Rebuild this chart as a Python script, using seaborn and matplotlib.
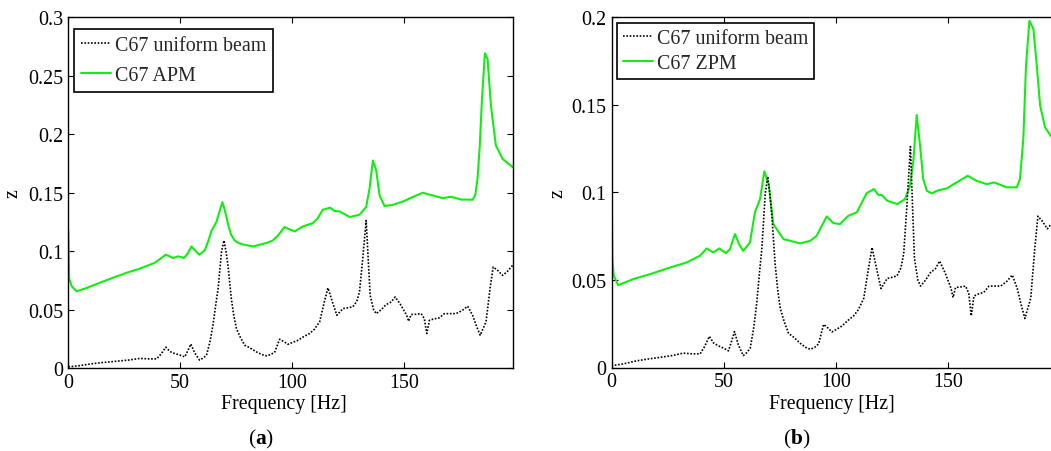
import matplotlib
matplotlib.use("Agg")
import matplotlib.pyplot as plt
import seaborn as sns

# Uniform beam response (shared by both panels)
freq_uniform = [0, 5, 11.2, 16, 21.6, 27, 32, 36, 39.5, 41.5, 43.6, 45.5, 47.6, 50, 52.1,
                53.5, 54.8, 56.5, 58.7, 60.3, 61.8, 63.3, 64.7, 66, 67, 68.5, 69.6, 70.5,
                71.4, 72.9, 74, 75.2, 77, 78.9, 81, 84.1, 86.5, 88.6, 90.5, 92.3, 94.5,
                96.5, 98.2, 100.5, 102.7, 105, 107.9, 110, 112.4, 114.3, 116.1, 118.2,
                120.1, 122.8, 125, 127.2, 129, 130.2, 131.5, 133.2, 134.2, 135, 136.5,
                137.7, 140, 142.1, 144.4, 146.2, 148.8, 151.3, 152.2, 153.3, 155.5, 157.8,
                159.2, 160.3, 161.5, 163.5, 165.9, 168.2, 170.5, 173.4, 176, 178.6, 180.8,
                182.5, 184.2, 186.8, 188.6, 190, 192, 194.2, 196.4, 198.7]
z_uniform = [0.001, 0.002, 0.0038, 0.0048, 0.0058, 0.0068, 0.0082, 0.0078, 0.0078, 0.012,
             0.0178, 0.014, 0.0124, 0.011, 0.0095, 0.015, 0.0205, 0.013, 0.0068, 0.0085,
             0.011, 0.022, 0.0366, 0.055, 0.0679, 0.0992, 0.109, 0.100, 0.0878, 0.0594,
             0.045, 0.0337, 0.026, 0.0195, 0.0175, 0.0138, 0.0115, 0.0104, 0.0115, 0.0135,
             0.0246, 0.0225, 0.0203, 0.022, 0.0237, 0.0265, 0.0295, 0.033, 0.0395, 0.055,
             0.0685, 0.056, 0.0451, 0.0508, 0.0515, 0.0523, 0.057, 0.065, 0.090, 0.1262,
             0.090, 0.0622, 0.050, 0.0465, 0.050, 0.0542, 0.0565, 0.0608, 0.0536, 0.0451,
             0.040, 0.0457, 0.046, 0.0465, 0.0423, 0.0295, 0.0408, 0.042, 0.0429, 0.0465,
             0.0465, 0.0465, 0.049, 0.0528, 0.0451, 0.036, 0.028, 0.0395, 0.0679, 0.0864,
             0.0835, 0.0792, 0.0827, 0.0878]

# APM beam response
freq_apm = [0, 0.4, 1.5, 3.7, 8.2, 14.2, 20.1, 26.1, 32, 38.7, 41.5, 43.6, 46.9, 49.1, 51.7,
            53.5, 55.1, 57, 58.5, 61, 62.5, 64, 66.2, 67.8, 68.9, 70, 71.4, 72.8, 74.4, 76,
            78.1, 82.6, 88.6, 91.4, 93.8, 96.7, 98.5, 101.2, 104.9, 109.4, 111.5, 113.8,
            117.1, 119.1, 121.3, 125.8, 130.2, 133.2, 134.7, 136.2, 137.7, 139.2, 141.4,
            145.1, 149.6, 154, 158.5, 162.9, 167.4, 171.2, 175.6, 178.6, 180.8, 182, 183,
            184, 185, 186.3, 187.5, 189, 191.2, 194.2, 198.7]
z_apm = [0.1177, 0.0764, 0.070, 0.0656, 0.0685, 0.073, 0.0773, 0.0815, 0.085, 0.090, 0.094,
         0.0969, 0.0941, 0.0955, 0.0941, 0.098, 0.104, 0.100, 0.0969, 0.1006, 0.108, 0.1172,
         0.1248, 0.135, 0.1419, 0.135, 0.1234, 0.114, 0.1091, 0.107, 0.1057, 0.104, 0.1069,
         0.109, 0.1134, 0.1206, 0.119, 0.1168, 0.1211, 0.124, 0.128, 0.1354, 0.1371, 0.1342,
         0.134, 0.1291, 0.1311, 0.1377, 0.1533, 0.1775, 0.169, 0.1476, 0.1385, 0.1396,
         0.1424, 0.1462, 0.1499, 0.1476, 0.1453, 0.1465, 0.1441, 0.1441, 0.1439, 0.148,
         0.1618, 0.19, 0.2301, 0.2692, 0.2644, 0.2244, 0.1904, 0.1789, 0.1718]

# ZPM beam response
freq_zpm = [0, 0.4, 1, 3, 9.7, 17.2, 26.1, 33.5, 39.4, 42.4, 45.4, 48, 51, 52.8, 55, 57, 58.7,
            61.7, 63.9, 66.2, 68.1, 70, 72.1, 76.6, 84, 88.5, 91.4, 95.9, 98.8, 101.8, 105.5,
            109.3, 113.7, 117, 118.9, 120.4, 122.9, 127.4, 130.8, 133, 134.5, 136, 137.5,
            138.9, 140.5, 142.7, 144.9, 149.4, 153.8, 158.7, 162.7, 167.2, 170.5, 176.1,
            180.6, 182, 183.5, 184.7, 186.2, 188, 189.5, 191, 193.2, 195.9, 198.7]
z_zpm = [0.1143, 0.062, 0.0523, 0.047, 0.0505, 0.0533, 0.0571, 0.060, 0.0638, 0.068, 0.0657,
         0.068, 0.0653, 0.0676, 0.0762, 0.070, 0.0666, 0.0714, 0.0886, 0.0962, 0.112, 0.105,
         0.082, 0.0733, 0.0709, 0.0723, 0.0752, 0.0863, 0.0825, 0.0819, 0.0866, 0.0886,
         0.0996, 0.1019, 0.0985, 0.0985, 0.0952, 0.0933, 0.0962, 0.1038, 0.118, 0.1442,
         0.1266, 0.1076, 0.1009, 0.0994, 0.1009, 0.1023, 0.1057, 0.1095, 0.1066, 0.1047,
         0.1057, 0.1029, 0.1029, 0.1076, 0.1305, 0.1723, 0.198, 0.1933, 0.1723, 0.1495,
         0.1371, 0.132, 0.129]

x_ticks = [0, 50, 100, 150]
x_tick_labels = ["0", "50", "100", "150"]
y_ticks_a = [0, 0.05, 0.1, 0.15, 0.2, 0.25, 0.3]
y_tick_labels_a = ["0", "0.05", "0.1", "0.15", "0.2", "0.25", "0.3"]
y_ticks_b = [0, 0.05, 0.1, 0.15, 0.2]
y_tick_labels_b = ["0", "0.05", "0.1", "0.15", "0.2"]

sns.set_theme(style="white")
plt.rcParams["font.family"] = ["Liberation Serif", "DejaVu Serif"]
plt.rcParams["mathtext.fontset"] = "custom"
plt.rcParams["mathtext.rm"] = "Liberation Serif"
plt.rcParams["mathtext.bf"] = "Liberation Serif:bold"

FS = 14.4
W, H = 1051, 452
fig = plt.figure(figsize=(W / 100, H / 100), dpi=100)


def px_box(left, right, top, bottom):
    return [left / W, 1 - bottom / H, (right - left) / W, (bottom - top) / H]


ax_a = fig.add_axes(px_box(68.3, 513.3, 18.3, 369.0))
ax_b = fig.add_axes(px_box(611.5, 1058.1, 18.3, 368.5))

GREEN = "#12ee12"


def draw_panel(ax, f_other, z_other, other_label, ymax, yticks, ylabels,
               legend_anchor, label_spacing, border_pad):
    sns.lineplot(x=f_other, y=z_other, ax=ax, color=GREEN, linewidth=1.5,
                 label=other_label, estimator=None, zorder=2)
    sns.lineplot(x=freq_uniform, y=z_uniform, ax=ax, color="black", linewidth=1.2,
                 linestyle=(0, (1.0, 1.0)), label="C67 uniform beam",
                 estimator=None, zorder=3)
    ax.set_xlim(0, 199)
    ax.set_ylim(0, ymax)
    ax.set_xticks(x_ticks)
    ax.set_xticklabels(x_tick_labels)
    ax.set_yticks(yticks)
    ax.set_yticklabels(ylabels)
    ax.tick_params(direction="in", length=4, width=0.8, colors="black",
                   labelsize=FS, pad=3.5, top=True, right=True, bottom=True, left=True)
    for sp in ax.spines.values():
        sp.set_visible(True)
        sp.set_color("black")
        sp.set_linewidth(1.0)
    ax.set_xlabel("Frequency [Hz]", fontsize=FS, color="black")
    ax.set_ylabel("z", fontsize=FS, color="black")
    ax.xaxis.label.set_va("center")
    ax.yaxis.label.set_va("center")
    handles, labels = ax.get_legend_handles_labels()
    order = [1, 0]
    leg = ax.legend([handles[i] for i in order], [labels[i] for i in order],
                    loc="upper left", bbox_to_anchor=legend_anchor, borderaxespad=0,
                    frameon=True, fancybox=False, framealpha=1, edgecolor="black",
                    fontsize=FS, handlelength=1.5, handletextpad=0.2,
                    borderpad=border_pad, labelspacing=label_spacing)
    leg.get_frame().set_linewidth(1.2)
    ax.set_facecolor("white")


draw_panel(ax_a, freq_apm, z_apm, "C67 APM", 0.3, y_ticks_a, y_tick_labels_a,
           (0.0128, 0.967), 0.55, 0.35)
draw_panel(ax_b, freq_zpm, z_zpm, "C67 ZPM", 0.2, y_ticks_b, y_tick_labels_b,
           (0.0123, 0.984), 0.32, 0.28)

ax_a.xaxis.set_label_coords((284 - 68.3) / 445, (369 - 405) / 350.7)
ax_a.yaxis.set_label_coords((13 - 68.3) / 445, 0.5)
ax_b.xaxis.set_label_coords((832 - 611.5) / 446.6, (368.5 - 405) / 350.2)
ax_b.yaxis.set_label_coords((558 - 611.5) / 446.6, 0.5)

fig.text(261 / W, 1 - 439 / H, r"($\mathbf{a}$)", ha="center", va="center",
         fontsize=FS + 1, color="black")
fig.text(797 / W, 1 - 439 / H, r"($\mathbf{b}$)", ha="center", va="center",
         fontsize=FS + 1, color="black")

fig.savefig("out.png", dpi=100, facecolor="white")
